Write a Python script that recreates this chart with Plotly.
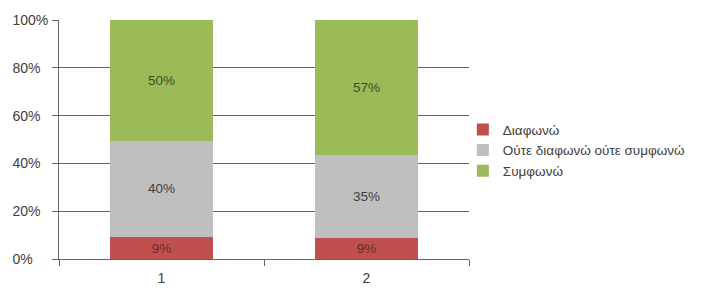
import plotly.graph_objects as go

categories = ["1", "2"]
series_names = ["Διαφωνώ", "Ούτε διαφωνώ ούτε συμφωνώ", "Συμφωνώ"]
disagree = [9, 9]
neutral = [40, 35]
agree = [50, 57]
colors = ["#C0504D", "#BFBFBF", "#9BBB59"]
label_colors = ["#6b2a28", "#404040", "#3d4d1f"]
y_ticks = [0, 20, 40, 60, 80, 100]
y_tick_labels = ["0%", "20%", "40%", "60%", "80%", "100%"]

FONT = "Liberation Sans, Arial"
FIG_SPACE = "\u2007"
max_len = max(len(t) for t in y_tick_labels)
# left-align tick labels (as in the reference) by padding with digit-width spaces
padded_labels = [t + FIG_SPACE * (max_len - len(t)) for t in y_tick_labels]

fig = go.Figure()
for name, vals, col, lc in zip(series_names, [disagree, neutral, agree], colors, label_colors):
    fig.add_trace(go.Bar(
        x=categories, y=vals, name=name,
        marker=dict(color=col, line=dict(width=0)),
        text=[f"{v}%" for v in vals], textposition="inside",
        insidetextanchor="middle",
        textfont=dict(color=lc, size=13.5, family=FONT),
        width=0.5,
    ))

fig.update_layout(
    barmode="stack", barnorm="percent",
    width=712, height=303,
    margin=dict(l=57, r=243, t=15, b=44),
    paper_bgcolor="white", plot_bgcolor="white",
    font=dict(family=FONT, size=13.5, color="#404040"),
    uniformtext=dict(mode="show", minsize=12),
    legend=dict(
        x=0.985, xanchor="left", y=0.455, yanchor="middle",
        traceorder="normal", font=dict(size=13.5, color="#404040"),
        itemwidth=30, tracegroupgap=0, bgcolor="rgba(0,0,0,0)",
    ),
    showlegend=True,
)
fig.update_yaxes(
    range=[0, 100], tickvals=y_ticks, ticktext=padded_labels,
    showgrid=True, gridcolor="#666666", gridwidth=1,
    showline=True, linecolor="#666666", linewidth=1,
    ticks="outside", ticklen=6, tickcolor="#666666",
    ticklabelstandoff=1,
    zeroline=False, tickfont=dict(size=14, color="#404040"),
)
fig.update_xaxes(
    range=[-0.5, 1.5], type="category",
    showline=True, linecolor="#666666", linewidth=1,
    ticks="outside", ticklen=6, tickcolor="#666666", tickson="boundaries",
    ticklabelstandoff=6,
    showgrid=False, tickfont=dict(size=14, color="#404040"),
)
fig.write_html("out.html")
